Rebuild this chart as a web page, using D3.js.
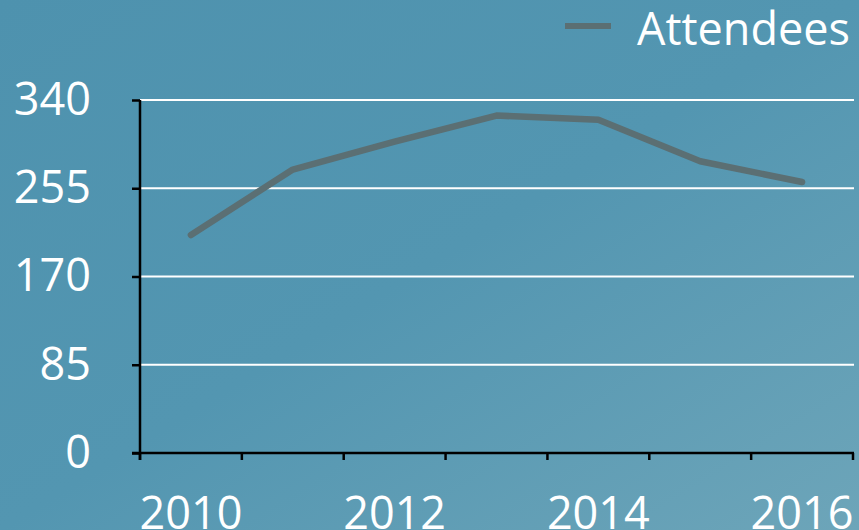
<!DOCTYPE html>
<html>
<head>
<meta charset="utf-8">
<script src="https://cdn.jsdelivr.net/npm/d3@7"></script>
<style>
  html, body { margin: 0; padding: 0; overflow: hidden; }
  text { font-family: 'Open Sans', sans-serif; fill: #fff; }
</style>
</head>
<body>
<svg id="chart" width="859" height="530"></svg>
<script>
// data
var years = ['2010', '2011', '2012', '2013', '2014', '2015', '2016'];
var attendees = [210, 273, 300, 325, 321, 281, 261];
var yTicks = [0, 85, 170, 255, 340];
var xLabels = ['2010', '2012', '2014', '2016'];
var seriesName = 'Attendees';

var svgWidth = 859, svgHeight = 530;
var padding = {l: 140, r: 6, t: 100, b: 77};
var lineColor = '#5b6f73';
var fontSize = '45px';

var svg = d3.select('#chart');

// background gradient
var defs = svg.append('defs');
var grad = defs.append('linearGradient')
    .attr('id', 'bg')
    .attr('x1', '0').attr('y1', '0')
    .attr('x2', '1').attr('y2', '1');
grad.append('stop').attr('offset', '0').attr('stop-color', '#4e92ae');
grad.append('stop').attr('offset', '0.5').attr('stop-color', '#5396b1');
grad.append('stop').attr('offset', '1').attr('stop-color', '#6da5b9');
svg.append('rect')
    .attr('width', svgWidth)
    .attr('height', svgHeight)
    .attr('fill', 'url(#bg)');

var chartWidth = svgWidth - padding.l - padding.r;
var chartHeight = svgHeight - padding.t - padding.b;

var g = svg.append('g')
    .attr('transform', 'translate(' + padding.l + ',' + padding.t + ')');

var x = d3.scaleBand()
    .domain(years)
    .range([0, chartWidth]);
var y = d3.scaleLinear()
    .domain([0, 340])
    .range([chartHeight, 0]);

// gridlines
g.selectAll('.grid')
    .data(yTicks.filter(function(d){ return d > 0; }))
    .enter()
    .append('line')
    .attr('class', 'grid')
    .attr('x1', 0)
    .attr('x2', chartWidth + 1)
    .attr('y1', function(d){ return y(d); })
    .attr('y2', function(d){ return y(d); })
    .attr('stroke', '#fff')
    .attr('stroke-width', 2.2);

// y axis
var yAxis = d3.axisLeft(y).tickValues(yTicks).tickSize(8).tickPadding(41);
var yG = g.append('g').attr('class', 'axis').call(yAxis);

// x axis: ticks at band edges, labels every other year
var edges = years.map(function(d){ return x(d); }).concat([chartWidth]);
var xG = g.append('g')
    .attr('class', 'axis')
    .attr('transform', 'translate(0,' + chartHeight + ')');
xG.append('line')
    .attr('x1', -8).attr('x2', chartWidth + 1)
    .attr('y1', 0).attr('y2', 0);
xG.selectAll('.xtick')
    .data(edges)
    .enter()
    .append('line')
    .attr('class', 'xtick')
    .attr('x1', function(d){ return d; })
    .attr('x2', function(d){ return d; })
    .attr('y1', 0).attr('y2', 7);
xG.selectAll('.xlabel')
    .data(xLabels)
    .enter()
    .append('text')
    .attr('class', 'xlabel')
    .attr('text-anchor', 'middle')
    .attr('x', function(d){ return x(d) + x.bandwidth() / 2; })
    .attr('y', 76)
    .style('font-size', fontSize)
    .text(function(d){ return d; });

svg.selectAll('.axis line, .axis path')
    .attr('stroke', '#000')
    .attr('stroke-width', 2.5)
    .attr('fill', 'none');
yG.select('.domain').attr('d', 'M0,' + (chartHeight + 7) + 'V0');
yG.selectAll('text')
    .style('font-size', fontSize)
    .attr('fill', '#fff');

// the line
var line = d3.line()
    .x(function(d, i){ return x(years[i]) + x.bandwidth() / 2; })
    .y(function(d){ return y(d); });
g.append('path')
    .datum(attendees)
    .attr('d', line)
    .attr('fill', 'none')
    .attr('stroke', lineColor)
    .attr('stroke-width', 6.5)
    .attr('stroke-linecap', 'round')
    .attr('stroke-linejoin', 'round');

// legend
var legend = svg.append('g').attr('transform', 'translate(565,26)');
legend.append('line')
    .attr('x1', 0).attr('x2', 46)
    .attr('y1', 0).attr('y2', 0)
    .attr('stroke', lineColor)
    .attr('stroke-width', 6);
legend.append('text')
    .attr('x', 72)
    .attr('y', 19)
    .style('font-size', fontSize)
    .text(seriesName);
</script>
</body>
</html>
